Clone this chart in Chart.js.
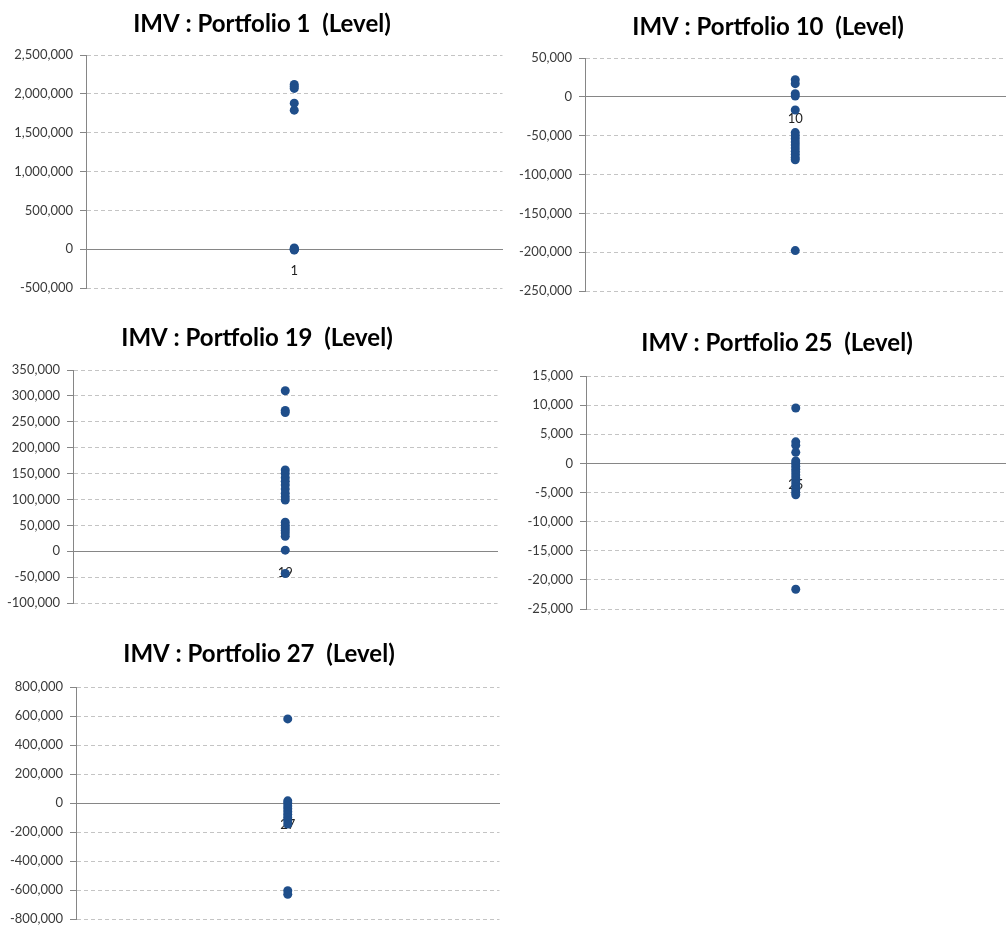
<!DOCTYPE html>
<html>
<head>
<meta charset="utf-8">
<script src="https://cdn.jsdelivr.net/npm/chart.js@4/dist/chart.umd.min.js"></script>
<style>
    html, body { margin: 0; padding: 0; background: #fff; overflow: hidden; }
    body { width: 1008px; height: 925px; position: relative; }
    .panel { position: absolute; }
</style>
</head>
<body>
<div class="panel" id="p0"><canvas id="c0"></canvas></div>
<div class="panel" id="p1"><canvas id="c1"></canvas></div>
<div class="panel" id="p2"><canvas id="c2"></canvas></div>
<div class="panel" id="p3"><canvas id="c3"></canvas></div>
<div class="panel" id="p4"><canvas id="c4"></canvas></div>
<script>
const portfolios = ["1", "10", "19", "25", "27"];

const portfolio1 = [2120000, 2095000, 2070000, 1880000, 1790000, 15000, 6000, 0, -6000, -12000];
const portfolio10 = [22000, 17000, 4000, 1000, -17000, -46000, -50000, -54000, -58000, -62000, -66000, -70000, -74000, -78000, -81000, -198000];
const portfolio19 = [310000, 272000, 268000, 157000, 150000, 142000, 135000, 128000, 120000, 112000, 105000, 99000, 56000, 50000, 45000, 40000, 35000, 29000, 2000, -43000];
const portfolio25 = [9500, 3700, 3100, 1900, 400, 0, -500, -1000, -1500, -2000, -2500, -3000, -3500, -4000, -4500, -5000, -5400, -21600];
const portfolio27 = [580000, 15000, 0, -20000, -40000, -60000, -80000, -100000, -120000, -145000, -605000, -630000];

// y axis range per chart
const axisMin = [-500000, -250000, -100000, -25000, -800000];
const axisMax = [2500000, 50000, 350000, 15000, 800000];
const axisStep = [500000, 50000, 50000, 5000, 200000];

const seriesList = [portfolio1, portfolio10, portfolio19, portfolio25, portfolio27];

// page geometry of each panel (px)
const boxes = [
    { left: 0, titleX: 262, titleY: 23, plotLeft: 86, plotRight: 505, plotTop: 55, plotBottom: 288 },
    { left: 505, titleX: 768, titleY: 26, plotLeft: 585, plotRight: 1008, plotTop: 58, plotBottom: 291 },
    { left: 0, titleX: 257, titleY: 337, plotLeft: 73, plotRight: 500, plotTop: 370, plotBottom: 603 },
    { left: 505, titleX: 777, titleY: 342, plotLeft: 586, plotRight: 1008, plotTop: 376, plotBottom: 609 },
    { left: 0, titleX: 259, titleY: 653, plotLeft: 76, plotRight: 502, plotTop: 687, plotBottom: 919 },
];

const FONT = "Lato, 'Open Sans', sans-serif";
const TITLE_SIZE = 24;
const MARKER = "#1f4e8a";
const BOTTOM_PAD = 16;

Chart.defaults.font.family = FONT;
Chart.defaults.animation = false;

const fmt = (v) => Number(v).toLocaleString("en-US");

// title drawn at a fixed x so it can sit off the canvas centre like the Excel one
const panelTitle = {
    id: "panelTitle",
    afterDraw(chart, args, opts) {
        const ctx = chart.ctx;
        ctx.save();
        ctx.font = "bold " + TITLE_SIZE + "px " + FONT;
        ctx.fillStyle = "#000";
        ctx.textAlign = "center";
        ctx.textBaseline = "middle";
        ctx.fillText(opts.text, opts.x, opts.y);
        ctx.restore();
    },
};

portfolios.forEach((name, i) => {
    const b = boxes[i];
    const top = b.titleY - 22;
    const right = b.plotRight - b.left;
    const axisW = b.plotLeft - b.left;
    const width = right + 2;
    const height = b.plotBottom - top + BOTTOM_PAD;

    const panel = document.getElementById("p" + i);
    panel.style.left = b.left + "px";
    panel.style.top = top + "px";
    panel.style.width = width + "px";
    panel.style.height = height + "px";

    new Chart(document.getElementById("c" + i), {
        type: "line",
        data: {
            labels: [name],
            datasets: [
                {
                    data: seriesList[i].map((v) => ({ x: name, y: v })),
                    showLine: false,
                    pointRadius: 4.5,
                    pointHoverRadius: 4.5,
                    pointBackgroundColor: MARKER,
                    pointBorderColor: MARKER,
                    pointBorderWidth: 0,
                },
            ],
        },
        plugins: [panelTitle],
        options: {
            responsive: true,
            maintainAspectRatio: false,
            layout: {
                padding: { left: 0, right: width - right, top: b.plotTop - top, bottom: BOTTOM_PAD },
            },
            plugins: {
                legend: false,
                tooltip: { enabled: false },
                panelTitle: {
                    text: "IMV : Portfolio " + name + "  (Level)",
                    x: b.titleX - b.left,
                    y: b.titleY - top + 1,
                },
            },
            scales: {
                x: {
                    type: "category",
                    offset: true,
                    position: { y: 0 },
                    z: 1,
                    grid: { display: false, drawTicks: false },
                    border: { display: true, color: "#868686", width: 1 },
                    ticks: {
                        color: "#222",
                        padding: 14,
                        font: { size: 13 },
                    },
                },
                y: {
                    min: axisMin[i],
                    max: axisMax[i],
                    afterFit: (scale) => {
                        scale.width = axisW;
                    },
                    grid: {
                        color: "#c4c4c4",
                        lineWidth: 1,
                        tickLength: 6,
                        tickColor: "#868686",
                        tickBorderDash: [],
                    },
                    border: { display: true, color: "#868686", dash: [4, 3] },
                    ticks: {
                        stepSize: axisStep[i],
                        color: "#3a3a3a",
                        padding: 7,
                        font: { size: 13 },
                        callback: (v) => fmt(v),
                    },
                },
            },
        },
    });
});
</script>
</body>
</html>
